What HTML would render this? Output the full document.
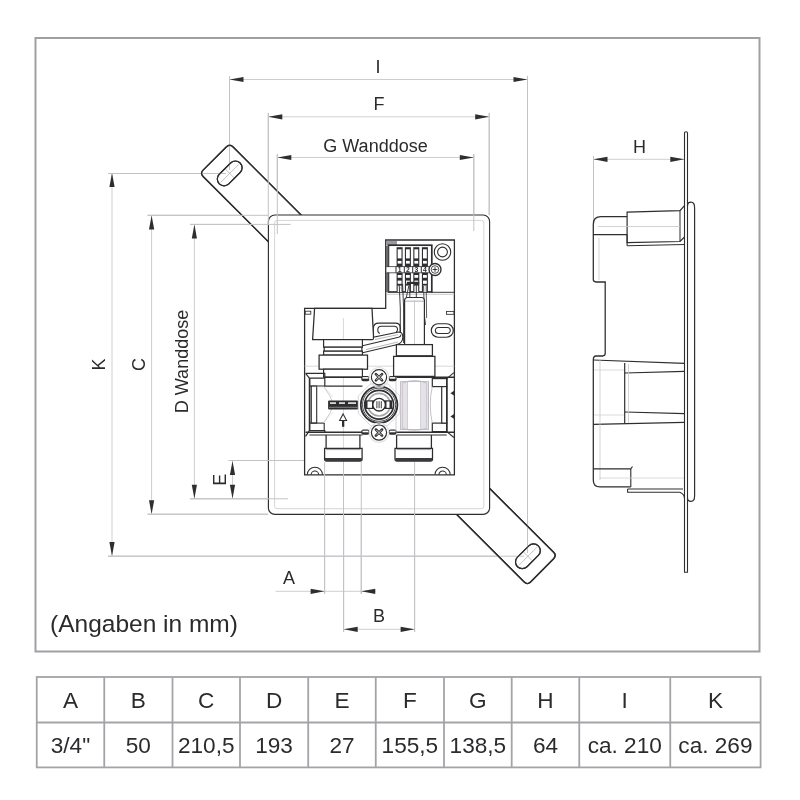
<!DOCTYPE html>
<html><head><meta charset="utf-8"><style>
html,body{margin:0;padding:0;background:#fff;}
svg{display:block;font-family:"Liberation Sans", sans-serif;will-change:transform;}
</style></head><body>
<svg width="800" height="800" viewBox="0 0 800 800">
<rect width="800" height="800" fill="#fff"/>
<rect x="35.5" y="38" width="724" height="613.5" fill="none" stroke="#a29fa4" stroke-width="2"/>
<rect x="36.75" y="677" width="723.85" height="90.4" fill="none" stroke="#a5a3a8" stroke-width="1.8"/>
<line x1="36.75" y1="722.5" x2="760.6" y2="722.5" stroke="#a5a3a8" stroke-width="1.8"/>
<line x1="104.25" y1="677" x2="104.25" y2="767.4" stroke="#a5a3a8" stroke-width="1.8"/>
<line x1="172.5" y1="677" x2="172.5" y2="767.4" stroke="#a5a3a8" stroke-width="1.8"/>
<line x1="240" y1="677" x2="240" y2="767.4" stroke="#a5a3a8" stroke-width="1.8"/>
<line x1="308.2" y1="677" x2="308.2" y2="767.4" stroke="#a5a3a8" stroke-width="1.8"/>
<line x1="375.75" y1="677" x2="375.75" y2="767.4" stroke="#a5a3a8" stroke-width="1.8"/>
<line x1="444" y1="677" x2="444" y2="767.4" stroke="#a5a3a8" stroke-width="1.8"/>
<line x1="511.7" y1="677" x2="511.7" y2="767.4" stroke="#a5a3a8" stroke-width="1.8"/>
<line x1="579.25" y1="677" x2="579.25" y2="767.4" stroke="#a5a3a8" stroke-width="1.8"/>
<line x1="670.25" y1="677" x2="670.25" y2="767.4" stroke="#a5a3a8" stroke-width="1.8"/>
<text x="70.5" y="708" font-size="22.6" text-anchor="middle" fill="#2b2b2e">A</text>
<text x="70.5" y="752.5" font-size="22.6" text-anchor="middle" fill="#2b2b2e">3/4&quot;</text>
<text x="138.375" y="708" font-size="22.6" text-anchor="middle" fill="#2b2b2e">B</text>
<text x="138.375" y="752.5" font-size="22.6" text-anchor="middle" fill="#2b2b2e">50</text>
<text x="206.25" y="708" font-size="22.6" text-anchor="middle" fill="#2b2b2e">C</text>
<text x="206.25" y="752.5" font-size="22.6" text-anchor="middle" fill="#2b2b2e">210,5</text>
<text x="274.1" y="708" font-size="22.6" text-anchor="middle" fill="#2b2b2e">D</text>
<text x="274.1" y="752.5" font-size="22.6" text-anchor="middle" fill="#2b2b2e">193</text>
<text x="341.975" y="708" font-size="22.6" text-anchor="middle" fill="#2b2b2e">E</text>
<text x="341.975" y="752.5" font-size="22.6" text-anchor="middle" fill="#2b2b2e">27</text>
<text x="409.875" y="708" font-size="22.6" text-anchor="middle" fill="#2b2b2e">F</text>
<text x="409.875" y="752.5" font-size="22.6" text-anchor="middle" fill="#2b2b2e">155,5</text>
<text x="477.85" y="708" font-size="22.6" text-anchor="middle" fill="#2b2b2e">G</text>
<text x="477.85" y="752.5" font-size="22.6" text-anchor="middle" fill="#2b2b2e">138,5</text>
<text x="545.475" y="708" font-size="22.6" text-anchor="middle" fill="#2b2b2e">H</text>
<text x="545.475" y="752.5" font-size="22.6" text-anchor="middle" fill="#2b2b2e">64</text>
<text x="624.75" y="708" font-size="22.6" text-anchor="middle" fill="#2b2b2e">I</text>
<text x="624.75" y="752.5" font-size="22.6" text-anchor="middle" fill="#2b2b2e">ca. 210</text>
<text x="715.425" y="708" font-size="22.6" text-anchor="middle" fill="#2b2b2e">K</text>
<text x="715.425" y="752.5" font-size="22.6" text-anchor="middle" fill="#2b2b2e">ca. 269</text>
<text x="50" y="632" font-size="24.5" text-anchor="start" fill="#2b2b2e">(Angaben in mm)</text>
<line x1="229.5" y1="79.5" x2="527.5" y2="79.5" stroke="#cfcdd2" stroke-width="1"/>
<polygon points="229.50,79.50 243.50,76.90 243.50,82.10" fill="#2e2e30"/>
<polygon points="527.50,79.50 513.50,76.90 513.50,82.10" fill="#2e2e30"/>
<line x1="229.5" y1="76" x2="229.5" y2="144.5" stroke="#c4c2c8" stroke-width="1"/>
<line x1="527.5" y1="76" x2="527.5" y2="556" stroke="#c4c2c8" stroke-width="1"/>
<text x="378" y="73" font-size="18" text-anchor="middle" fill="#2b2b2e">I</text>
<line x1="268.3" y1="116.8" x2="489.2" y2="116.8" stroke="#cfcdd2" stroke-width="1"/>
<polygon points="268.30,116.80 282.30,114.20 282.30,119.40" fill="#2e2e30"/>
<polygon points="489.20,116.80 475.20,114.20 475.20,119.40" fill="#2e2e30"/>
<line x1="268.3" y1="113" x2="268.3" y2="240" stroke="#c4c2c8" stroke-width="1"/>
<line x1="489.2" y1="113" x2="489.2" y2="215" stroke="#c4c2c8" stroke-width="1"/>
<text x="379" y="110" font-size="18" text-anchor="middle" fill="#2b2b2e">F</text>
<line x1="277.3" y1="157.5" x2="473.8" y2="157.5" stroke="#cfcdd2" stroke-width="1"/>
<polygon points="277.30,157.50 291.30,154.90 291.30,160.10" fill="#2e2e30"/>
<polygon points="473.80,157.50 459.80,154.90 459.80,160.10" fill="#2e2e30"/>
<line x1="277.3" y1="154" x2="277.3" y2="234" stroke="#c4c2c8" stroke-width="1"/>
<line x1="473.8" y1="154" x2="473.8" y2="231" stroke="#c4c2c8" stroke-width="1"/>
<text x="375.5" y="151.5" font-size="18" text-anchor="middle" fill="#2b2b2e">G Wanddose</text>
<line x1="112" y1="173" x2="112" y2="556" stroke="#cfcdd2" stroke-width="1"/>
<polygon points="112.00,173.00 109.40,187.00 114.60,187.00" fill="#2e2e30"/>
<polygon points="112.00,556.00 109.40,542.00 114.60,542.00" fill="#2e2e30"/>
<line x1="108" y1="173.5" x2="229.5" y2="173.5" stroke="#c4c2c8" stroke-width="1"/>
<line x1="108" y1="556.2" x2="527.5" y2="556.2" stroke="#c4c2c8" stroke-width="1"/>
<text x="104.5" y="364.5" font-size="18" text-anchor="middle" fill="#2b2b2e" transform="rotate(-90 104.5 364.5)">K</text>
<line x1="151.6" y1="215.5" x2="151.6" y2="514.2" stroke="#cfcdd2" stroke-width="1"/>
<polygon points="151.60,215.50 149.00,229.50 154.20,229.50" fill="#2e2e30"/>
<polygon points="151.60,514.20 149.00,500.20 154.20,500.20" fill="#2e2e30"/>
<line x1="147.5" y1="215.3" x2="268" y2="215.3" stroke="#c4c2c8" stroke-width="1"/>
<line x1="147.5" y1="514.2" x2="268" y2="514.2" stroke="#c4c2c8" stroke-width="1"/>
<text x="145" y="364.5" font-size="18" text-anchor="middle" fill="#2b2b2e" transform="rotate(-90 145 364.5)">C</text>
<line x1="194.4" y1="224.5" x2="194.4" y2="498.8" stroke="#cfcdd2" stroke-width="1"/>
<polygon points="194.40,224.50 191.80,238.50 197.00,238.50" fill="#2e2e30"/>
<polygon points="194.40,498.80 191.80,484.80 197.00,484.80" fill="#2e2e30"/>
<line x1="190" y1="224.4" x2="290.6" y2="224.4" stroke="#c4c2c8" stroke-width="1"/>
<line x1="190" y1="498.8" x2="288" y2="498.8" stroke="#c4c2c8" stroke-width="1"/>
<text x="187.5" y="361.5" font-size="18" text-anchor="middle" fill="#2b2b2e" transform="rotate(-90 187.5 361.5)">D Wanddose</text>
<line x1="232.5" y1="461" x2="232.5" y2="498.8" stroke="#cfcdd2" stroke-width="1"/>
<polygon points="232.50,461.00 229.90,475.00 235.10,475.00" fill="#2e2e30"/>
<polygon points="232.50,498.80 229.90,484.80 235.10,484.80" fill="#2e2e30"/>
<line x1="228.7" y1="460.5" x2="322" y2="460.5" stroke="#c4c2c8" stroke-width="1"/>
<text x="225.8" y="479.8" font-size="18" text-anchor="middle" fill="#2b2b2e" transform="rotate(-90 225.8 479.8)">E</text>
<line x1="275.7" y1="591.3" x2="375.9" y2="591.3" stroke="#cfcdd2" stroke-width="1"/>
<polygon points="324.60,591.30 310.60,588.70 310.60,593.90" fill="#2e2e30"/>
<polygon points="361.25,591.30 375.25,588.70 375.25,593.90" fill="#2e2e30"/>
<line x1="324.6" y1="462" x2="324.6" y2="594" stroke="#c4c2c8" stroke-width="1"/>
<line x1="361.25" y1="462" x2="361.25" y2="594" stroke="#c4c2c8" stroke-width="1"/>
<text x="289" y="584" font-size="18" text-anchor="middle" fill="#2b2b2e">A</text>
<line x1="343.7" y1="629.3" x2="414.6" y2="629.3" stroke="#cfcdd2" stroke-width="1"/>
<polygon points="343.70,629.30 357.70,626.70 357.70,631.90" fill="#2e2e30"/>
<polygon points="414.60,629.30 400.60,626.70 400.60,631.90" fill="#2e2e30"/>
<line x1="343.7" y1="462" x2="343.7" y2="632" stroke="#c4c2c8" stroke-width="1"/>
<line x1="414.6" y1="462" x2="414.6" y2="632" stroke="#c4c2c8" stroke-width="1"/>
<text x="379" y="622" font-size="18" text-anchor="middle" fill="#2b2b2e">B</text>
<line x1="593.5" y1="159.3" x2="684.3" y2="159.3" stroke="#cfcdd2" stroke-width="1"/>
<polygon points="593.50,159.30 607.50,156.70 607.50,161.90" fill="#2e2e30"/>
<polygon points="684.30,159.30 670.30,156.70 670.30,161.90" fill="#2e2e30"/>
<line x1="593.5" y1="156" x2="593.5" y2="225" stroke="#c4c2c8" stroke-width="1"/>
<text x="639.5" y="152.5" font-size="18" text-anchor="middle" fill="#2b2b2e">H</text>
<path d="M226.51,146.78 Q229.70,143.60 232.88,146.78 L346.52,260.42 Q349.70,263.60 346.51,266.78 L323.09,290.12 Q319.90,293.30 316.72,290.12 L203.08,176.48 Q199.90,173.30 203.09,170.12 Z" stroke="#2e2e30" stroke-width="1.36" fill="#fff" />
<path d="M-8.0,-6.75 H8.0 A6.75,6.75 0 0 1 8.0,6.75 H-8.0 A6.75,6.75 0 0 1 -8.0,-6.75 Z" transform="translate(229.7 173.4) rotate(-45)" stroke="#2e2e30" stroke-width="1.19" fill="none"/>
<line x1="220.7" y1="182.4" x2="238.7" y2="164.4" stroke="#9a9a9e" stroke-width="0.6"/>
<line x1="224.7" y1="168.4" x2="234.7" y2="178.4" stroke="#9a9a9e" stroke-width="0.6"/>
<path d="M433.63,438.70 Q436.80,435.50 439.98,438.68 L553.62,552.32 Q556.80,555.50 553.63,558.70 L530.57,582.00 Q527.40,585.20 524.22,582.02 L410.58,468.38 Q407.40,465.20 410.57,462.00 Z" stroke="#2e2e30" stroke-width="1.36" fill="#fff" />
<path d="M-8.0,-6.75 H8.0 A6.75,6.75 0 0 1 8.0,6.75 H-8.0 A6.75,6.75 0 0 1 -8.0,-6.75 Z" transform="translate(527.9 556.3) rotate(-45)" stroke="#2e2e30" stroke-width="1.19" fill="none"/>
<line x1="518.9" y1="565.3" x2="536.9" y2="547.3" stroke="#9a9a9e" stroke-width="0.6"/>
<line x1="522.9" y1="551.3" x2="532.9" y2="561.3" stroke="#9a9a9e" stroke-width="0.6"/>
<line x1="229.5" y1="76" x2="229.5" y2="170" stroke="#c4c2c8" stroke-width="1"/>
<line x1="108" y1="173.5" x2="226" y2="173.5" stroke="#c4c2c8" stroke-width="1"/>
<line x1="527.5" y1="76" x2="527.5" y2="553" stroke="#c4c2c8" stroke-width="1"/>
<line x1="108" y1="556.2" x2="524" y2="556.2" stroke="#c4c2c8" stroke-width="1"/>
<path d="M226.51,146.78 Q229.70,143.60 232.88,146.78 L346.52,260.42 Q349.70,263.60 346.51,266.78 L323.09,290.12 Q319.90,293.30 316.72,290.12 L203.08,176.48 Q199.90,173.30 203.09,170.12 Z" stroke="#2e2e30" stroke-width="1.36" fill="none" />
<path d="M433.63,438.70 Q436.80,435.50 439.98,438.68 L553.62,552.32 Q556.80,555.50 553.63,558.70 L530.57,582.00 Q527.40,585.20 524.22,582.02 L410.58,468.38 Q407.40,465.20 410.57,462.00 Z" stroke="#2e2e30" stroke-width="1.36" fill="none" />
<path d="M-8.0,-6.75 H8.0 A6.75,6.75 0 0 1 8.0,6.75 H-8.0 A6.75,6.75 0 0 1 -8.0,-6.75 Z" transform="translate(229.7 173.4) rotate(-45)" stroke="#2e2e30" stroke-width="1.19" fill="none"/>
<path d="M-8.0,-6.75 H8.0 A6.75,6.75 0 0 1 8.0,6.75 H-8.0 A6.75,6.75 0 0 1 -8.0,-6.75 Z" transform="translate(527.9 556.3) rotate(-45)" stroke="#2e2e30" stroke-width="1.19" fill="none"/>
<rect x="268.4" y="215" width="221.20000000000005" height="299.4" rx="6.5" fill="#fff" stroke="#2e2e30" stroke-width="1.15"/>
<rect x="274.6" y="220.4" width="209.2" height="288.29999999999995" rx="2.5" fill="none" stroke="#d6d4d8" stroke-width="1"/>
<line x1="268.3" y1="113" x2="268.3" y2="224" stroke="#c4c2c8" stroke-width="1"/>
<line x1="277.3" y1="154" x2="277.3" y2="234" stroke="#c4c2c8" stroke-width="1"/>
<line x1="473.8" y1="154" x2="473.8" y2="231" stroke="#c4c2c8" stroke-width="1"/>
<line x1="489.2" y1="113" x2="489.2" y2="215" stroke="#c4c2c8" stroke-width="1"/>
<line x1="147.5" y1="215.3" x2="268" y2="215.3" stroke="#c4c2c8" stroke-width="1"/>
<line x1="190" y1="224.4" x2="290.6" y2="224.4" stroke="#c4c2c8" stroke-width="1"/>
<line x1="190" y1="498.8" x2="288" y2="498.8" stroke="#c4c2c8" stroke-width="1"/>
<line x1="228.7" y1="460.5" x2="322" y2="460.5" stroke="#c4c2c8" stroke-width="1"/>
<line x1="147.5" y1="514.2" x2="268" y2="514.2" stroke="#c4c2c8" stroke-width="1"/>
<path d="M304.6,474.8 V308.3 H385.7 V240 H454.4 V474.8 Z" stroke="#2e2e30" stroke-width="1.27" fill="#fff" />
<path d="M307.29999999999995,474.8 A7.6,7.6 0 0 1 322.5,474.8" stroke="#2e2e30" stroke-width="1.02" fill="none" />
<path d="M311.2,474.8 A3.7,3.7 0 0 1 318.59999999999997,474.8" stroke="#2e2e30" stroke-width="1.02" fill="none" />
<path d="M435.0,474.8 A7.6,7.6 0 0 1 450.20000000000005,474.8" stroke="#2e2e30" stroke-width="1.02" fill="none" />
<path d="M438.90000000000003,474.8 A3.7,3.7 0 0 1 446.3,474.8" stroke="#2e2e30" stroke-width="1.02" fill="none" />
<rect x="305.2" y="311.2" width="5.6" height="3" fill="none" stroke="#2e2e30" stroke-width="0.85"/>
<rect x="446.5" y="311.4" width="7.5" height="2.9" fill="none" stroke="#2e2e30" stroke-width="0.85"/>
<circle cx="442.5" cy="252" r="8.2" fill="none" stroke="#2e2e30" stroke-width="1.10"/>
<circle cx="442.5" cy="252" r="4.9" fill="none" stroke="#2e2e30" stroke-width="1.10"/>
<line x1="431.3" y1="292.3" x2="454.4" y2="292.3" stroke="#2e2e30" stroke-width="0.94"/>
<line x1="387" y1="294.3" x2="454.4" y2="294.3" stroke="#bdbbc0" stroke-width="0.8"/>
<path d="M-4.25,-6.75 H4.25 A6.75,6.75 0 0 1 4.25,6.75 H-4.25 A6.75,6.75 0 0 1 -4.25,-6.75 Z" transform="translate(442.3 330.5) rotate(0)" stroke="#2e2e30" stroke-width="1.19" fill="none"/>
<path d="M-4.5,-3.0 H4.5 A3.0,3.0 0 0 1 4.5,3.0 H-4.5 A3.0,3.0 0 0 1 -4.5,-3.0 Z" transform="translate(442.8 330.5) rotate(0)" stroke="#2e2e30" stroke-width="1.02" fill="none"/>
<path d="M373.4,336 V328.2 Q373.4,323.1 378.6,323.1 H395.4 Q400.2,323.1 400.2,327.8 V332" stroke="#2e2e30" stroke-width="1.19" fill="#fff" />
<path d="M380,333.3 Q377.8,333.3 377.8,329.8 Q377.8,326.3 381.2,326.3 H394.2 Q397.5,326.3 397.5,329.6 Q397.5,331.5 396,332" stroke="#2e2e30" stroke-width="1.10" fill="none" />
<rect x="386" y="241" width="11" height="4" fill="#9a989d"/>
<rect x="388.4" y="245.2" width="43.4" height="46.8" fill="#fff" stroke="#2e2e30" stroke-width="1.70"/>
<rect x="386" y="246" width="2.4" height="46" fill="#6a686d"/>
<rect x="396.6" y="247.2" width="6.0" height="44.4" fill="#2e2e30"/>
<rect x="397.70000000000005" y="249.3" width="3.8" height="9.099999999999966" fill="#fff"/>
<rect x="397.70000000000005" y="260.9" width="3.8" height="2.7000000000000455" fill="#fff"/>
<rect x="397.70000000000005" y="275.0" width="3.8" height="2.8000000000000114" fill="#fff"/>
<rect x="397.70000000000005" y="280.6" width="3.8" height="3.1999999999999886" fill="#fff"/>
<rect x="397.70000000000005" y="285.6" width="3.8" height="6.399999999999977" fill="#fff"/>
<rect x="404.9" y="247.2" width="6.0" height="44.4" fill="#2e2e30"/>
<rect x="406.0" y="249.3" width="3.8" height="9.099999999999966" fill="#fff"/>
<rect x="406.0" y="260.9" width="3.8" height="2.7000000000000455" fill="#fff"/>
<rect x="406.0" y="275.0" width="3.8" height="2.8000000000000114" fill="#fff"/>
<rect x="406.0" y="280.6" width="3.8" height="3.1999999999999886" fill="#fff"/>
<rect x="406.0" y="285.6" width="3.8" height="6.399999999999977" fill="#fff"/>
<rect x="413.3" y="247.2" width="6.0" height="44.4" fill="#2e2e30"/>
<rect x="414.40000000000003" y="249.3" width="3.8" height="9.099999999999966" fill="#fff"/>
<rect x="414.40000000000003" y="260.9" width="3.8" height="2.7000000000000455" fill="#fff"/>
<rect x="414.40000000000003" y="275.0" width="3.8" height="2.8000000000000114" fill="#fff"/>
<rect x="414.40000000000003" y="280.6" width="3.8" height="3.1999999999999886" fill="#fff"/>
<rect x="414.40000000000003" y="285.6" width="3.8" height="6.399999999999977" fill="#fff"/>
<rect x="421.9" y="247.2" width="6.0" height="44.4" fill="#2e2e30"/>
<rect x="423.0" y="249.3" width="3.8" height="9.099999999999966" fill="#fff"/>
<rect x="423.0" y="260.9" width="3.8" height="2.7000000000000455" fill="#fff"/>
<rect x="423.0" y="275.0" width="3.8" height="2.8000000000000114" fill="#fff"/>
<rect x="423.0" y="280.6" width="3.8" height="3.1999999999999886" fill="#fff"/>
<rect x="423.0" y="285.6" width="3.8" height="6.399999999999977" fill="#fff"/>
<rect x="386.5" y="266.8" width="44.5" height="5.8" fill="#fff"/>
<line x1="386.5" y1="266.6" x2="431" y2="266.6" stroke="#2e2e30" stroke-width="0.77"/>
<line x1="386.5" y1="272.8" x2="431" y2="272.8" stroke="#2e2e30" stroke-width="0.77"/>
<text x="399.6" y="272" font-size="6.8" text-anchor="middle" fill="#2e2e30" font-weight="bold">1</text>
<line x1="396.0" y1="266.6" x2="396.0" y2="272.8" stroke="#2e2e30" stroke-width="1.02"/>
<text x="407.9" y="272" font-size="6.8" text-anchor="middle" fill="#2e2e30" font-weight="bold">2</text>
<line x1="404.29999999999995" y1="266.6" x2="404.29999999999995" y2="272.8" stroke="#2e2e30" stroke-width="1.02"/>
<text x="416.3" y="272" font-size="6.8" text-anchor="middle" fill="#2e2e30" font-weight="bold">3</text>
<line x1="412.7" y1="266.6" x2="412.7" y2="272.8" stroke="#2e2e30" stroke-width="1.02"/>
<text x="424.9" y="272" font-size="6.8" text-anchor="middle" fill="#2e2e30" font-weight="bold">4</text>
<line x1="421.29999999999995" y1="266.6" x2="421.29999999999995" y2="272.8" stroke="#2e2e30" stroke-width="1.02"/>
<circle cx="435" cy="269.5" r="6" fill="#fff" stroke="#2e2e30" stroke-width="1.36"/>
<circle cx="435" cy="269.5" r="3.8" fill="none" stroke="#2e2e30" stroke-width="0.85"/>
<line x1="432.6" y1="269.5" x2="437.4" y2="269.5" stroke="#2e2e30" stroke-width="0.94"/>
<line x1="435" y1="267.1" x2="435" y2="271.9" stroke="#2e2e30" stroke-width="0.94"/>
<path d="M399.2,284 L400.3,308 V343" stroke="#2e2e30" stroke-width="0.94" fill="none" />
<path d="M402.6,284 L403.6,308 V343" stroke="#2e2e30" stroke-width="0.94" fill="none" />
<line x1="399.8" y1="288" x2="402.3" y2="288" stroke="#8a888d" stroke-width="0.6"/>
<path d="M408.8,286 L406.3,297.5" stroke="#2e2e30" stroke-width="0.94" fill="none" />
<rect x="406.8" y="281.8" width="12.4" height="2.2" fill="#2e2e30"/>
<line x1="409.8" y1="284" x2="409.8" y2="297.5" stroke="#2e2e30" stroke-width="0.94"/>
<line x1="416.3" y1="284" x2="416.3" y2="297.5" stroke="#2e2e30" stroke-width="0.94"/>
<path d="M423.6,286 L424.4,316 L425.6,325" stroke="#2e2e30" stroke-width="0.85" fill="none" />
<path d="M426.2,286 L426.6,318" stroke="#2e2e30" stroke-width="0.77" fill="none" />
<path d="M404.6,344.6 V300.5 Q404.6,297.5 407.6,297.5 H421.4 Q424.4,297.5 424.4,300.5 V344.6" stroke="#2e2e30" stroke-width="1.19" fill="#fff" />
<line x1="405" y1="301.2" x2="424" y2="301.2" stroke="#9a989d" stroke-width="0.8"/>
<line x1="414.5" y1="300" x2="414.5" y2="376" stroke="#c8c6cc" stroke-width="0.7"/>
<line x1="304.6" y1="366.2" x2="323" y2="366.2" stroke="#cfcdd2" stroke-width="0.8"/>
<line x1="362.4" y1="366.2" x2="393.6" y2="366.2" stroke="#cfcdd2" stroke-width="0.8"/>
<line x1="434.9" y1="366.2" x2="454.4" y2="366.2" stroke="#cfcdd2" stroke-width="0.8"/>
<path d="M314.6,308.3 L372,308.3 L373.7,339.6 L312.6,339.6 Z" stroke="#2e2e30" stroke-width="1.27" fill="#fff" />
<line x1="343.4" y1="318" x2="343.4" y2="462" stroke="#c8c6cc" stroke-width="0.7"/>
<path d="M361.5,353 L396.5,344.8 Q402.8,343.2 402.8,337 Q402.8,331.2 397.5,332.3 L373.4,337.2 V339.5 L373.4,339.5" stroke="#2e2e30" stroke-width="1.10" fill="#fff" />
<path d="M362.5,345.8 L398.5,337.3 Q401,336.5 401,334.5" stroke="#2e2e30" stroke-width="1.02" fill="none" />
<path d="M366,349.6 L398,342" stroke="#9a989d" stroke-width="0.7" fill="none" />
<path d="M375,339.5 L398,334.6" stroke="#9a989d" stroke-width="0.7" fill="none" />
<rect x="323.6" y="339.6" width="38.8" height="7.6" fill="#fff" stroke="#2e2e30" stroke-width="1.19"/>
<rect x="324.2" y="347.2" width="37.7" height="4" fill="#fff" stroke="#2e2e30" stroke-width="1.19"/>
<rect x="323.6" y="351.2" width="38.8" height="3.9" fill="#fff" stroke="#2e2e30" stroke-width="1.19"/>
<rect x="319.1" y="355.1" width="48.4" height="14.1" fill="#fff" stroke="#2e2e30" stroke-width="1.27"/>
<rect x="323.6" y="369.2" width="38.8" height="8" fill="#fff" stroke="#2e2e30" stroke-width="1.19"/>
<rect x="396.4" y="344.6" width="36" height="11.2" fill="#fff" stroke="#2e2e30" stroke-width="1.27"/>
<rect x="393.6" y="356.4" width="41.3" height="20" fill="#fff" stroke="#2e2e30" stroke-width="1.27"/>
<path d="M305.6,373.3 H324.8 V386.1 M305.6,373.3 L309.4,378.1 H324.8 M305.6,436.4 L309.4,430.6 H324.8 V432" stroke="#2e2e30" stroke-width="1.19" fill="none" />
<line x1="309.6" y1="378.1" x2="309.6" y2="430.6" stroke="#2e2e30" stroke-width="1.70"/>
<line x1="324.8" y1="377.2" x2="362.4" y2="377.2" stroke="#2e2e30" stroke-width="1.36"/>
<line x1="309.4" y1="386.1" x2="362.4" y2="386.1" stroke="#2e2e30" stroke-width="1.44"/>
<rect x="311.3" y="386.1" width="5.4" height="37" fill="#fff" stroke="#2e2e30" stroke-width="1.10"/>
<line x1="309.4" y1="423.1" x2="324.2" y2="423.1" stroke="#2e2e30" stroke-width="1.10"/>
<line x1="324.2" y1="423.1" x2="324.2" y2="430.6" stroke="#2e2e30" stroke-width="1.10"/>
<path d="M316.7,386.6 H323.8 Q331,396 333.5,404.6 Q331,413 323.8,422.6" stroke="#b5b3b8" stroke-width="0.7" fill="none" />
<path d="M323.8,386.6 L333,397 M323.8,422.6 L333,412" stroke="#cfcdd2" stroke-width="0.5" fill="none" />
<line x1="305.6" y1="432.3" x2="362.4" y2="432.3" stroke="#2e2e30" stroke-width="1.44"/>
<line x1="309.4" y1="434.9" x2="362.4" y2="434.9" stroke="#2e2e30" stroke-width="1.02"/>
<rect x="361.3" y="376.0" width="8.199999999999989" height="5.2" rx="2" fill="#2e2e30"/>
<rect x="362.5" y="377.1" width="5.799999999999988" height="1.6" fill="#fff"/>
<rect x="361.3" y="429.59999999999997" width="8.199999999999989" height="5.2" rx="2" fill="#2e2e30"/>
<rect x="362.5" y="430.7" width="5.799999999999988" height="1.6" fill="#fff"/>
<rect x="388.6" y="376.0" width="8.0" height="5.2" rx="2" fill="#2e2e30"/>
<rect x="389.8" y="377.1" width="5.6" height="1.6" fill="#fff"/>
<rect x="388.6" y="429.59999999999997" width="8.0" height="5.2" rx="2" fill="#2e2e30"/>
<rect x="389.8" y="430.7" width="5.6" height="1.6" fill="#fff"/>
<rect x="328.1" y="400.6" width="30" height="8.9" fill="#2e2e30" rx="1"/>
<rect x="330" y="402.2" width="6" height="1.8" fill="#d8d6da"/><rect x="339" y="402.2" width="6" height="1.8" fill="#d8d6da"/><rect x="348" y="402.2" width="8" height="1.8" fill="#d8d6da"/>
<line x1="329" y1="407.3" x2="357.5" y2="407.3" stroke="#9a989d" stroke-width="0.8"/>
<path d="M343.1,413.9 L346.6,420.6 H339.6 Z" stroke="#2e2e30" stroke-width="1.02" fill="#fff" />
<rect x="342" y="420.6" width="2.3" height="6.2" fill="#2e2e30"/>
<path d="M326.1,434.9 V448.3 M359.9,434.9 V448.3" stroke="#2e2e30" stroke-width="1.27" fill="none" />
<path d="M324.6,448.3 H362.1 V459 Q362.1,461 360,461 H326.6 Q324.6,461 324.6,459 Z" stroke="#2e2e30" stroke-width="1.27" fill="#fff" />
<rect x="325" y="458" width="36.8" height="3" fill="#3a3a3c"/>
<line x1="326" y1="449.6" x2="360.5" y2="449.6" stroke="#8a888d" stroke-width="0.8"/>
<line x1="396.6" y1="377.2" x2="454.4" y2="377.2" stroke="#2e2e30" stroke-width="1.44"/>
<line x1="396" y1="381" x2="396" y2="432" stroke="#c4c2c7" stroke-width="0.8"/>
<rect x="401" y="382.4" width="6.5" height="46.5" fill="#e4e2e6"/>
<rect x="421" y="382.4" width="7" height="46.5" fill="#e4e2e6"/>
<rect x="400.6" y="381.6" width="27.9" height="48" fill="none" stroke="#b9b7bc" stroke-width="0.9"/>
<line x1="402.5" y1="382" x2="402.5" y2="429" stroke="#c2c0c5" stroke-width="0.7"/>
<line x1="407.5" y1="382" x2="407.5" y2="429" stroke="#c2c0c5" stroke-width="0.7"/>
<line x1="420.5" y1="382" x2="420.5" y2="429" stroke="#c2c0c5" stroke-width="0.7"/>
<line x1="426.5" y1="382" x2="426.5" y2="429" stroke="#c2c0c5" stroke-width="0.7"/>
<path d="M403,383 Q414.5,378 426,383 M403,428.5 Q414.5,432 426,428.5" stroke="#b0aeb3" stroke-width="0.7" fill="none" />
<rect x="432.3" y="378.6" width="14.5" height="8" fill="#fff" stroke="#2e2e30" stroke-width="1.19"/>
<rect x="432.3" y="423.1" width="14.5" height="8.5" fill="#fff" stroke="#2e2e30" stroke-width="1.19"/>
<rect x="441.7" y="386.6" width="5.1" height="36.5" fill="#fff" stroke="#2e2e30" stroke-width="1.19"/>
<line x1="446.8" y1="378" x2="446.8" y2="432" stroke="#2e2e30" stroke-width="1.53"/>
<path d="M432.3,386.6 Q428.2,404.8 432.3,423.1" stroke="#b5b3b8" stroke-width="0.8" fill="none" />
<path d="M446.8,378.6 L453.9,372.6 M446.8,431.6 L453.9,437.5" stroke="#2e2e30" stroke-width="1.10" fill="none" />
<polygon points="450.4,393.2 454.4,390.59999999999997 454.4,395.8" fill="#2e2e30"/>
<polygon points="450.4,416.4 454.4,413.79999999999995 454.4,419.0" fill="#2e2e30"/>
<line x1="396.6" y1="432.3" x2="454.4" y2="432.3" stroke="#2e2e30" stroke-width="1.44"/>
<line x1="396.6" y1="434.9" x2="446.8" y2="434.9" stroke="#2e2e30" stroke-width="1.02"/>
<path d="M396.6,434.9 V448.3 M431.4,434.9 V448.3" stroke="#2e2e30" stroke-width="1.27" fill="none" />
<path d="M395,448.3 H432.5 V459 Q432.5,461 430.5,461 H397 Q395,461 395,459 Z" stroke="#2e2e30" stroke-width="1.27" fill="#fff" />
<rect x="395.4" y="458" width="36.8" height="3" fill="#3a3a3c"/>
<line x1="396.5" y1="449.6" x2="431" y2="449.6" stroke="#8a888d" stroke-width="0.8"/>
<polygon points="399.9,413.3 387.7,425.5 370.5,425.5 358.3,413.3 358.3,396.1 370.5,383.9 387.7,383.9 399.9,396.1" fill="none" stroke="#d2d0d5" stroke-width="0.9"/>
<circle cx="379.1" cy="404.7" r="18.3" fill="#fff" stroke="#2e2e30" stroke-width="1.78"/>
<circle cx="379.1" cy="404.7" r="16.6" fill="none" stroke="#4a484d" stroke-width="1.0"/>
<circle cx="379.1" cy="404.7" r="14.4" fill="none" stroke="#2e2e30" stroke-width="1.70"/>
<circle cx="379.1" cy="404.7" r="11.3" fill="none" stroke="#a8a6ab" stroke-width="1.6"/>
<rect x="365" y="400.3" width="27" height="8.7" fill="#2e2e30"/>
<rect x="367.5" y="401.5" width="4.5" height="6.3" fill="#fff"/><rect x="386.5" y="401.5" width="3" height="6.3" fill="#fff"/>
<circle cx="379.1" cy="404.7" r="6.3" fill="#fff" stroke="#2e2e30" stroke-width="1.36"/>
<line x1="376.9" y1="401.2" x2="376.9" y2="408.2" stroke="#2e2e30" stroke-width="0.94"/>
<line x1="379.1" y1="401.2" x2="379.1" y2="408.2" stroke="#2e2e30" stroke-width="0.94"/>
<line x1="381.3" y1="401.2" x2="381.3" y2="408.2" stroke="#2e2e30" stroke-width="0.94"/>
<circle cx="379" cy="377.3" r="9.8" fill="none" stroke="#e2e0e4" stroke-width="1.2"/>
<circle cx="379" cy="377.3" r="7.6" fill="#fff" stroke="#2e2e30" stroke-width="1.19"/>
<path d="M375.9,374.2 L382.1,380.40000000000003 M382.1,374.2 L375.9,380.40000000000003" stroke="#2e2e30" stroke-width="2.55" fill="none" stroke-linecap="round"/>
<path d="M376.3,374.6 L381.7,380.0 M381.7,374.6 L376.3,380.0" stroke="#ffffff" stroke-width="0.8" fill="none" />
<circle cx="379" cy="432.6" r="9.8" fill="none" stroke="#e2e0e4" stroke-width="1.2"/>
<circle cx="379" cy="432.6" r="7.6" fill="#fff" stroke="#2e2e30" stroke-width="1.19"/>
<path d="M375.9,429.5 L382.1,435.70000000000005 M382.1,429.5 L375.9,435.70000000000005" stroke="#2e2e30" stroke-width="2.55" fill="none" stroke-linecap="round"/>
<path d="M376.3,429.90000000000003 L381.7,435.3 M381.7,429.90000000000003 L376.3,435.3" stroke="#ffffff" stroke-width="0.8" fill="none" />
<path d="M684.5,501 V572.2 H687.5 V133 Q687.5,131.7 686,131.7 Q684.5,131.7 684.5,133 V205" stroke="#2e2e30" stroke-width="1.10" fill="#fff" />
<path d="M687.5,206 Q687.5,202.2 691,202.2 Q694.6,202.2 694.6,208 V496 Q694.6,501.3 691,501.3 Q687.5,501.3 687.5,498" stroke="#2e2e30" stroke-width="1.19" fill="none" />
<line x1="684.5" y1="205" x2="684.5" y2="501" stroke="#2e2e30" stroke-width="1.10"/>
<path d="M684.5,205.7 L680,210.6 L627.1,212.2 V242.6 L680,241.5 L684.5,237" stroke="#2e2e30" stroke-width="1.19" fill="none" />
<line x1="680" y1="210.6" x2="680" y2="241.5" stroke="#2e2e30" stroke-width="1.02"/>
<path d="M627.1,245.8 L684.5,244.5" stroke="#2e2e30" stroke-width="1.10" fill="none" />
<path d="M627.1,216.7 H601 Q593.3,216.7 593.3,224.4 V279.6 Q593.3,282 596,282 H605.2 V353.6 Q605.2,356 602.6,356 H596 Q593.3,356 593.3,360 V480.2 Q593.3,486.9 600,486.9 H630.8" stroke="#2e2e30" stroke-width="1.27" fill="none" />
<line x1="593.3" y1="234.6" x2="627.1" y2="234.6" stroke="#2e2e30" stroke-width="1.10"/>
<line x1="599" y1="238" x2="599" y2="280" stroke="#c8c6cc" stroke-width="0.8"/>
<line x1="627.1" y1="234.6" x2="627.1" y2="245.8" stroke="#2e2e30" stroke-width="1.10"/>
<line x1="598" y1="226.5" x2="680" y2="226.5" stroke="#c8c6cc" stroke-width="0.8"/>
<path d="M593.3,360 L684.5,363.3" stroke="#2e2e30" stroke-width="1.19" fill="none" />
<path d="M624.7,363 V423.4" stroke="#2e2e30" stroke-width="1.19" fill="none" />
<path d="M624.7,373 L684.5,371.4 M624.7,412 L684.5,413.7" stroke="#2e2e30" stroke-width="1.19" fill="none" />
<path d="M593.3,424.3 L684.5,422.3" stroke="#2e2e30" stroke-width="1.19" fill="none" />
<line x1="600" y1="360" x2="600" y2="480" stroke="#c8c6cc" stroke-width="0.8"/>
<line x1="628.5" y1="364" x2="628.5" y2="423" stroke="#c8c6cc" stroke-width="0.8"/>
<line x1="594" y1="370" x2="624" y2="370" stroke="#d0ced3" stroke-width="0.8"/>
<line x1="594" y1="415" x2="624" y2="415" stroke="#d0ced3" stroke-width="0.8"/>
<path d="M593.3,468.9 H630.8 L632.5,466.5 M630.8,468.9 V486.9" stroke="#2e2e30" stroke-width="1.10" fill="none" />
<path d="M627.6,489 H683 M627.6,489 V492.2 H679.8 Q684.5,494 684.5,498.6" stroke="#2e2e30" stroke-width="1.10" fill="none" />
<line x1="599" y1="478" x2="684" y2="478" stroke="#d0ced3" stroke-width="0.8"/>
<line x1="324.6" y1="462" x2="324.6" y2="594" stroke="#c4c2c8" stroke-width="1"/>
<line x1="361.25" y1="462" x2="361.25" y2="594" stroke="#c4c2c8" stroke-width="1"/>
<line x1="343.5" y1="462" x2="343.5" y2="632" stroke="#c4c2c8" stroke-width="1"/>
<line x1="414.6" y1="462" x2="414.6" y2="632" stroke="#c4c2c8" stroke-width="1"/>
<line x1="414.5" y1="300" x2="414.5" y2="344" stroke="#c8c6cc" stroke-width="0.7"/>
</svg></body></html>
